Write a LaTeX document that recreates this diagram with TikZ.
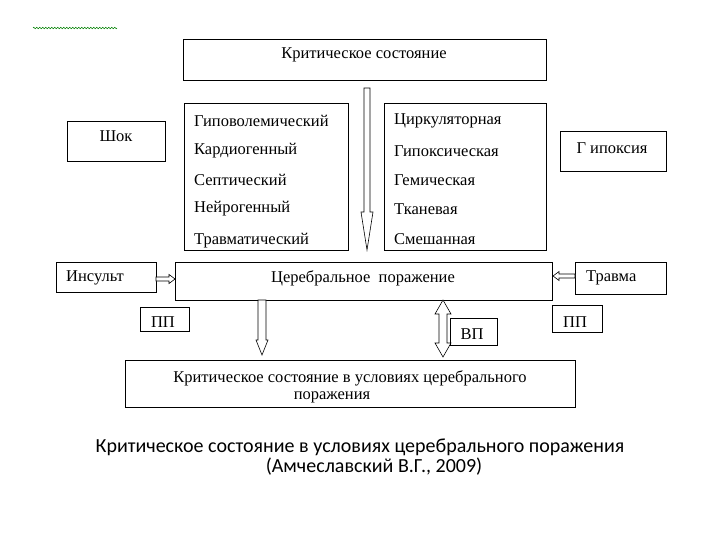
\documentclass[tikz,border=0pt]{standalone}
\usepackage{fontspec}
\setmainfont{Liberation Serif}
\newfontfamily\capfont{Carlito}
\usetikzlibrary{decorations.pathmorphing}
\begin{document}
\begin{tikzpicture}[x=1pt,y=-1pt,
  box/.style={draw,line width=0.8pt},
  txt/.style={font=\fontsize{16.5}{19}\selectfont,inner sep=0pt,anchor=west,yshift=-3pt},
  ctxt/.style={font=\fontsize{16.5}{19}\selectfont,inner sep=0pt,yshift=-3pt},
  harr/.style={draw,line width=0.6pt,fill=white}]
\useasboundingbox (0,0) rectangle (720,540);
\draw[green!50!black,decorate,decoration={zigzag,amplitude=0.8pt,segment length=3pt}] (33,28) -- (117,28);
\draw[box] (183,39) rectangle (546,80);
\node[ctxt] (t1) at (364,52) {Критическое состояние};
\draw[box] (184,103) rectangle (348,250);
\node[txt] (a1) at (194,118) {Гиповолемический};
\node[txt] (a2) at (194,148) {Кардиогенный};
\node[txt] (a3) at (194,177) {Септический};
\node[txt] (a4) at (194,206) {Нейрогенный};
\node[txt] (a5) at (194,238) {Травматический};
\draw[box] (384,103) rectangle (546,250);
\node[txt] (b1) at (394,118) {Циркуляторная};
\node[txt] (b2) at (394,148) {Гипоксическая};
\node[txt] (b3) at (394,177) {Гемическая};
\node[txt] (b4) at (394,206) {Тканевая};
\node[txt] (b5) at (394,236) {Смешанная};
\draw[box] (67,121) rectangle (165,161);
\node[ctxt] (shok) at (116,133) {Шок};
\draw[box] (560,131) rectangle (666,171);
\node[ctxt] (hyp) at (612,145) {Г ипоксия};
\draw[harr] (364,88) -- (370,88) -- (370,212) -- (373,212) -- (367,250) -- (361,212) -- (364,212) -- cycle;
\draw[box] (175,262) rectangle (552,300);
\node[ctxt] (cer) at (363,275) {Церебральное\ \ поражение};
\draw[box] (56,262) rectangle (156,292);
\node[txt] (ins) at (66,275) {Инсульт};
\draw[harr] (156,277) -- (169,277) -- (169,274.5) -- (175,279) -- (169,283.5) -- (169,281) -- (156,281) -- cycle;
\draw[box] (575,262) rectangle (666,294);
\node[txt] (tr) at (586,275) {Травма};
\draw[harr] (575,274) -- (559,274) -- (559,271.5) -- (553,276) -- (559,280.5) -- (559,278) -- (575,278) -- cycle;
\draw[box] (140,307) rectangle (189,331);
\node[ctxt] (pp1) at (163,319) {ПП};
\draw[harr] (258,300) -- (266,300) -- (266,340) -- (268,340) -- (262,355) -- (256,340) -- (258,340) -- cycle;
\draw[harr] (443,300) -- (451,314) -- (447,314) -- (447,343) -- (451,343) -- (443,357) -- (435,343) -- (439,343) -- (439,314) -- (435,314) -- cycle;
\draw[box] (450,318) rectangle (497,345);
\node[ctxt] (vp) at (472,331) {ВП};
\draw[box] (552,305) rectangle (602,332);
\node[ctxt] (pp2) at (575,319) {ПП};
\draw[box] (125,360) rectangle (575,407);
\node[ctxt] (bt1) at (350,375) {Критическое состояние в условиях церебрального};
\node[ctxt] (bt2) at (332,394) {поражения};
\node[font=\capfont\fontsize{20}{22}\selectfont,inner sep=0pt] (c1) at (360,447) {Критическое состояние в условиях церебрального поражения};
\node[font=\capfont\fontsize{20}{22}\selectfont,inner sep=0pt] (c2) at (374,467) {(Амчеславский В.Г., 2009)};
\end{tikzpicture}
\end{document}
